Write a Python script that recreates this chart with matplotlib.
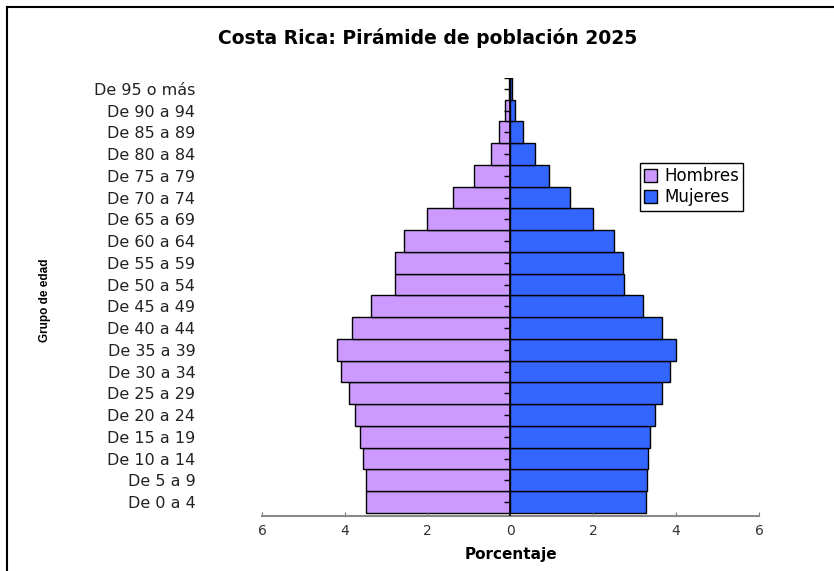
import matplotlib.pyplot as plt
from matplotlib.lines import Line2D

grupos = ['De 0 a 4', 'De 5 a 9', 'De 10 a 14', 'De 15 a 19', 'De 20 a 24',
          'De 25 a 29', 'De 30 a 34', 'De 35 a 39', 'De 40 a 44', 'De 45 a 49',
          'De 50 a 54', 'De 55 a 59', 'De 60 a 64', 'De 65 a 69', 'De 70 a 74',
          'De 75 a 79', 'De 80 a 84', 'De 85 a 89', 'De 90 a 94', 'De 95 o más']

hombres = [3.48, 3.50, 3.56, 3.63, 3.76, 3.90, 4.10, 4.20, 3.82, 3.36,
           2.78, 2.78, 2.56, 2.02, 1.40, 0.88, 0.48, 0.27, 0.13, 0.04]
mujeres = [3.26, 3.29, 3.33, 3.37, 3.50, 3.65, 3.84, 3.99, 3.65, 3.19,
           2.75, 2.71, 2.50, 1.99, 1.43, 0.94, 0.58, 0.31, 0.12, 0.04]

plt.rcParams['font.family'] = ['DejaVu Sans']

fig = plt.figure(figsize=(8.34, 5.71), dpi=100)
ax = fig.add_axes([262/834, 1 - 516/571, 497/834, 438/571])

y = list(range(len(grupos)))
ax.barh(y, [-h for h in hombres], height=1.0, color='#CC99FF',
        edgecolor='black', linewidth=1, label='Hombres')
ax.barh(y, mujeres, height=1.0, color='#3366FF',
        edgecolor='black', linewidth=1, label='Mujeres')

# eje central con marcas
ax.axvline(0, color='black', linewidth=1.2, zorder=3)
ax.plot([0] * len(y), y, linestyle='', marker=0, markersize=4,
        color='black', zorder=3)
ax.plot([0], [len(y) - 0.5], linestyle='', marker=0, markersize=4, color='black')

ax.set_xlim(-6, 6)
ax.set_ylim(-0.64, len(y) - 0.5)
ax.set_xticks([-6, -4, -2, 0, 2, 4, 6])
ax.set_xticklabels(['6', '4', '2', '0', '2', '4', '6'], color='#333333', fontsize=10)
ax.set_yticks(y)
ax.set_yticklabels(grupos, fontsize=11.5, color='#222222')
ax.tick_params(axis='y', length=0, pad=48)
ax.tick_params(axis='x', direction='in', length=3, color='#777777', pad=6)

for s in ['top', 'right', 'left']:
    ax.spines[s].set_visible(False)
ax.spines['bottom'].set_color('#888888')
ax.spines['bottom'].set_linewidth(1.5)

ax.set_xlabel('Porcentaje', fontsize=11, fontweight='bold', labelpad=6)
fig.text(45/834, 1 - 300/571, 'Grupo de edad', rotation=90, fontsize=8.5,
         fontweight='bold', ha='center', va='center', family='Liberation Sans')
fig.text(428/834, 1 - 38/571, 'Costa Rica: Pirámide de población 2025',
         fontsize=13.5, fontweight='bold', ha='center', va='center')

leg = ax.legend(loc='upper left', bbox_to_anchor=(0.76, 0.806), fontsize=12,
                fancybox=False, edgecolor='black', framealpha=1,
                handlelength=0.8, handleheight=0.8, handletextpad=0.4,
                borderpad=0.25, labelspacing=0.2, borderaxespad=0)
leg.get_frame().set_linewidth(1)

# marco de la imagen
fig.add_artist(Line2D([7/834, 1], [1 - 7/571, 1 - 7/571], color='black', linewidth=1.5))
fig.add_artist(Line2D([7/834, 7/834], [0, 1 - 7/571], color='black', linewidth=1.5))

fig.savefig('out.png', dpi=100)
